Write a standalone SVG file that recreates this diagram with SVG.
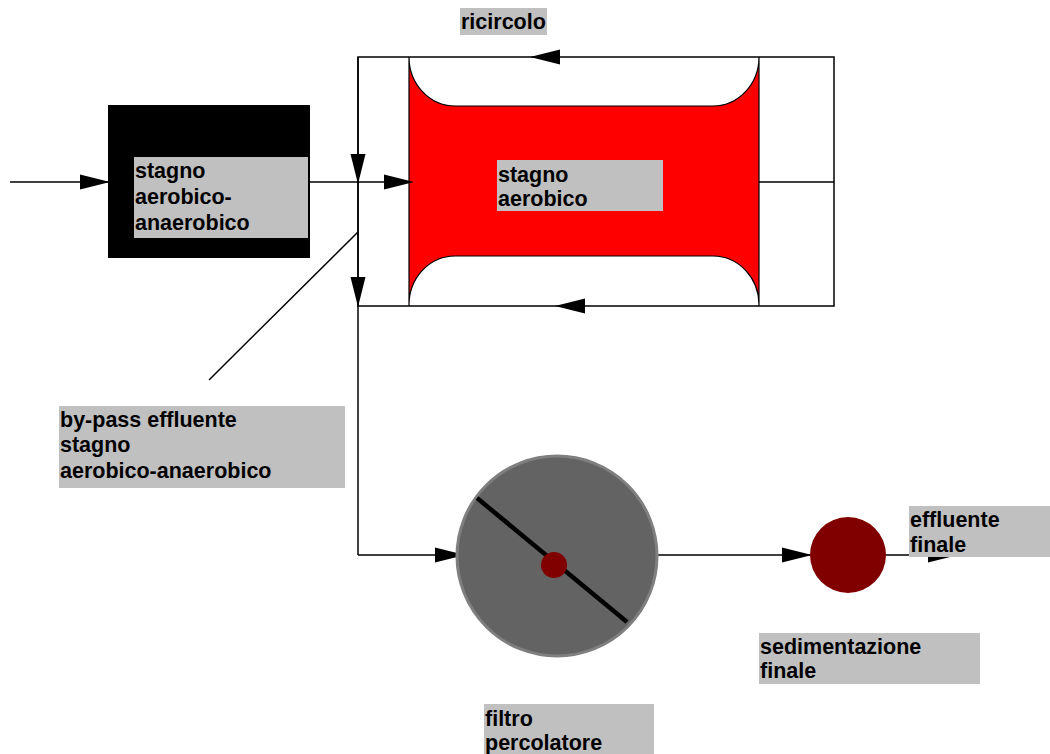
<svg xmlns="http://www.w3.org/2000/svg" xmlns:xlink="http://www.w3.org/1999/xlink" width="1050" height="754" viewBox="0 0 1050 754">
<style>
.ln{stroke:#000;stroke-width:1.5;fill:none}
.lbl{fill:#c0c0c0}
.t{font-family:"Liberation Sans",Arial,sans-serif;font-weight:bold;font-size:21.5px;fill:#000}
.ah{fill:#000}
</style>
<defs>
<path id="ah" d="M0,0 L-30,-7.5 L-30,7.5 Z"/>
</defs>
<rect width="1050" height="754" fill="#fff"/>

<g id="stagno-aerobico">
<path d="M409,57 A46,49 0 0 0 455,106 L713,106 A46,49 0 0 0 759,57 L759,306 A46,49 0 0 0 713,256 L455,256 A46,49 0 0 0 409,306 Z" fill="#ff0000" stroke="#000" stroke-width="1.2"/>
<rect class="lbl" x="497" y="160" width="166" height="51"/>
<text class="t" x="498" y="182">stagno</text>
<text class="t" x="498" y="206">aerobico</text>
</g>

<g id="connectors">
<line class="ln" x1="10" y1="182" x2="108" y2="182"/>
<line class="ln" x1="310" y1="182" x2="409" y2="182"/>
<line class="ln" x1="358" y1="57" x2="358" y2="555"/>
<line class="ln" x1="358" y1="555" x2="460" y2="555"/>
<rect class="ln" x="358" y="57" width="476" height="249"/>
<line class="ln" x1="759" y1="182" x2="834" y2="182"/>
<line class="ln" x1="358" y1="232" x2="209" y2="380"/>
<line class="ln" x1="658" y1="555" x2="810" y2="555"/>
<line class="ln" x1="886" y1="555" x2="955" y2="555"/>
<use xlink:href="#ah" class="ah" transform="translate(110,182)"/>
<use xlink:href="#ah" class="ah" transform="translate(414,182)"/>
<use xlink:href="#ah" class="ah" transform="translate(358,184) rotate(90)"/>
<use xlink:href="#ah" class="ah" transform="translate(358,307) rotate(90)"/>
<use xlink:href="#ah" class="ah" transform="translate(530,57) rotate(180)"/>
<use xlink:href="#ah" class="ah" transform="translate(555,306) rotate(180)"/>
<use xlink:href="#ah" class="ah" transform="translate(465,555)"/>
<use xlink:href="#ah" class="ah" transform="translate(812,555)"/>
<use xlink:href="#ah" class="ah" transform="translate(958,555)"/>
</g>

<g id="stagno-aerobico-anaerobico">
<rect x="108" y="105" width="202" height="153" fill="#000"/>
<rect class="lbl" x="134" y="157" width="174" height="81"/>
<text class="t" x="135" y="178">stagno</text>
<text class="t" x="135" y="204">aerobico-</text>
<text class="t" x="135" y="230">anaerobico</text>
</g>

<g id="filtro-percolatore">
<circle cx="557" cy="556" r="100" fill="#636363" stroke="#7f7f7f" stroke-width="3"/>
<line x1="477" y1="498" x2="627" y2="622" stroke="#000" stroke-width="4.5"/>
<circle cx="554" cy="565" r="13" fill="#800000"/>
<rect class="lbl" x="484" y="704" width="170" height="50"/>
<text class="t" x="485" y="726">filtro</text>
<text class="t" x="485" y="750">percolatore</text>
</g>

<g id="sedimentazione-finale">
<circle cx="848" cy="555" r="38" fill="#800000"/>
<rect class="lbl" x="759" y="633" width="221" height="51"/>
<text class="t" x="760" y="654">sedimentazione</text>
<text class="t" x="760" y="678">finale</text>
</g>

<g id="effluente-finale">
<rect class="lbl" x="909" y="506" width="141" height="51"/>
<text class="t" x="910" y="527">effluente</text>
<text class="t" x="910" y="552">finale</text>
</g>

<g id="by-pass">
<rect class="lbl" x="59" y="406" width="286" height="82"/>
<text class="t" x="60" y="427">by-pass effluente</text>
<text class="t" x="60" y="452">stagno</text>
<text class="t" x="60" y="478">aerobico-anaerobico</text>
</g>

<g id="ricircolo">
<rect class="lbl" x="460" y="8" width="87" height="27"/>
<text class="t" x="461" y="29">ricircolo</text>
</g>
</svg>
